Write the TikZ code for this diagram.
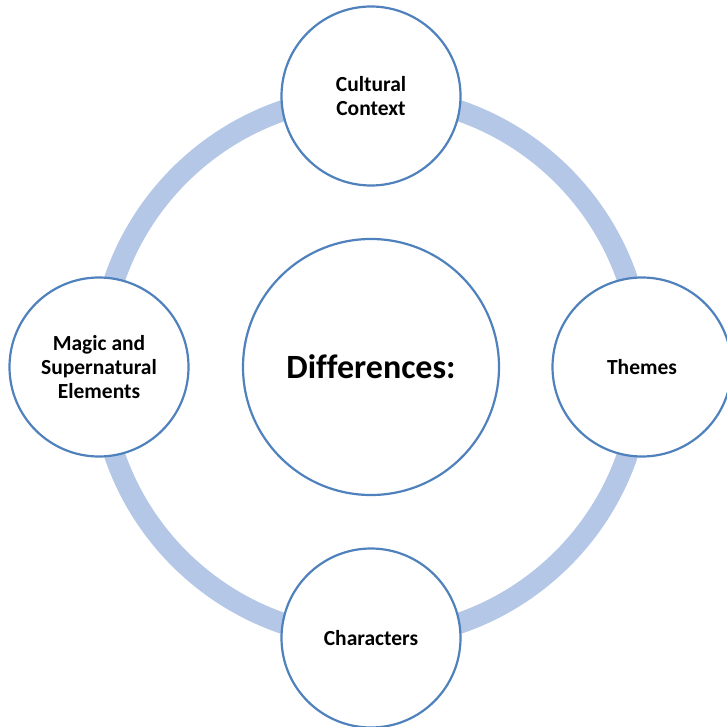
\documentclass[tikz,border=0pt]{standalone}
\usepackage{fontspec}
\setmainfont{Carlito}[Ligatures=NoCommon]
\definecolor{ringblue}{RGB}{180,199,231}
\definecolor{edgeblue}{RGB}{79,129,189}
\begin{document}
\begin{tikzpicture}[x=1pt,y=-1pt,
  topic/.style={circle,draw=edgeblue,line width=2.2pt,fill=white,
    minimum size=179pt,inner sep=0pt,align=center,
    font=\fontsize{21.5}{24}\selectfont\bfseries},
  hub/.style={topic,minimum size=256pt,font=\fontsize{34}{38}\selectfont\bfseries}]
  \useasboundingbox (0,0) rectangle (726,727);
  \coordinate (o) at (371,367);
  % connecting ring
  \draw[ringblue,line width=21pt] (o) circle[radius=271];
  % hub and surrounding topics
  \node[hub] (diff) at (o) {Differences:};
  \node[topic] (ctx) at (371,96) {Cultural\\Context};
  \node[topic] (thm) at (642,367) {Themes};
  \node[topic] (chr) at (371,638) {Characters};
  \node[topic] (mag) at (99,367) {Magic and\\Supernatural\\Elements};
\end{tikzpicture}
\end{document}
